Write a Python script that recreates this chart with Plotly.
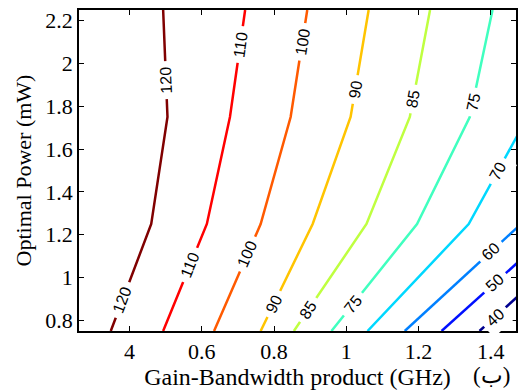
import math
import plotly.graph_objects as go

# ---- data ----
row_y = [0.75, 1.25, 1.75, 2.25]          # grid rows where the contours bend
level_values = [120, 110, 100, 90, 85, 75, 70, 60, 50, 40]
x_120 = [0.348, 0.460, 0.505, 0.493]
x_110 = [0.493, 0.614, 0.678, 0.720]
x_100 = [0.634, 0.763, 0.846, 0.892]
x_90 = [0.763, 0.907, 1.012, 1.062]
x_85 = [0.855, 1.056, 1.176, 1.232]
x_75 = [0.959, 1.196, 1.342, 1.405]
x_70 = [1.059, 1.339, 1.502]
x_60 = [1.162, 1.484]
x_50 = [1.264, 1.593]
x_40 = [1.369, 1.697]
level_x = [x_120, x_110, x_100, x_90, x_85, x_75, x_70, x_60, x_50, x_40]
level_colors = ["#800000", "#FF0000", "#FF5A00", "#FFC400", "#BFFF40",
                "#40FFBF", "#00D8FF", "#0080FF", "#0010FF", "#00008F"]
# inline labels: (level, segment index, fraction along segment)
label_specs = [(120, 0, 0.29), (120, 2, 0.34), (110, 0, 0.62), (110, 2, 0.68),
               (100, 0, 0.72), (100, 2, 0.70), (90, 0, 0.25), (90, 2, 0.26),
               (85, 0, 0.20), (85, 2, 0.17), (75, 0, 0.25), (75, 2, 0.14),
               (70, 1, 0.49), (60, 0, 0.74), (50, 0, 0.45), (40, 0, 0.13)]
x_tickvals = [0.4, 0.6, 0.8, 1.0, 1.2, 1.4]
x_ticktext = ["4", "0.6", "0.8", "1", "1.2", "1.4"]
y_tickvals = [0.8, 1.0, 1.2, 1.4, 1.6, 1.8, 2.0, 2.2]
y_ticktext = ["0.8", "1", "1.2", "1.4", "1.6", "1.8", "2", "2.2"]

# ---- layout geometry ----
W, H = 519, 390
ML, MR, MT, MB = 79, 1, 10, 55
x_range = [0.26, 1.47]
y_range = [0.75, 2.25]
sx = (W - ML - MR) / (x_range[1] - x_range[0])
sy = (H - MT - MB) / (y_range[1] - y_range[0])

fig = go.Figure()
for lv, xs, col in zip(level_values, level_x, level_colors):
    fig.add_trace(go.Scatter(x=xs, y=row_y[:len(xs)], mode="lines",
                             line=dict(color=col, width=2.5),
                             showlegend=False, hoverinfo="skip"))

annotations = []
for lv, seg, t in label_specs:
    xs = level_x[level_values.index(lv)]
    x0, x1 = xs[seg], xs[seg + 1]
    y0, y1 = row_y[seg], row_y[seg + 1]
    xa = x0 + t * (x1 - x0)
    ya = y0 + t * (y1 - y0)
    ang = math.degrees(math.atan2((y1 - y0) * sy, (x1 - x0) * sx))
    annotations.append(dict(x=xa, y=ya, xref="x", yref="y", text=str(lv),
                            showarrow=False, textangle=-ang,
                            font=dict(family="Liberation Sans", size=16, color="black"),
                            bgcolor="white", borderpad=5))

annotations.append(dict(x=(514 - ML) / (W - ML - MR), y=(H - MB - 395) / (H - MT - MB),
                        xref="paper", yref="paper", text="(ب)", showarrow=False,
                        font=dict(family="Liberation Serif", size=23, color="black")))

axis_common = dict(showline=True, linecolor="black", linewidth=1.8, mirror="ticks",
                   ticks="inside", ticklen=5, tickcolor="black", tickwidth=1,
                   showgrid=False, zeroline=False,
                   tickfont=dict(family="Liberation Serif", size=22, color="black"))

fig.update_layout(
    width=W, height=H, margin=dict(l=ML, r=MR, t=MT, b=MB),
    paper_bgcolor="white", plot_bgcolor="white",
    xaxis=dict(range=x_range, tickvals=x_tickvals, ticktext=x_ticktext,
               title=dict(text="Gain-Bandwidth product (GHz)", standoff=8,
                          font=dict(family="Liberation Serif", size=24, color="black")),
               **axis_common),
    yaxis=dict(range=y_range, tickvals=y_tickvals, ticktext=y_ticktext,
               title=dict(text="Optimal Power (mW)", standoff=8,
                          font=dict(family="Liberation Serif", size=22, color="black")),
               **axis_common),
    annotations=annotations,
)

fig.write_html("out.html")
